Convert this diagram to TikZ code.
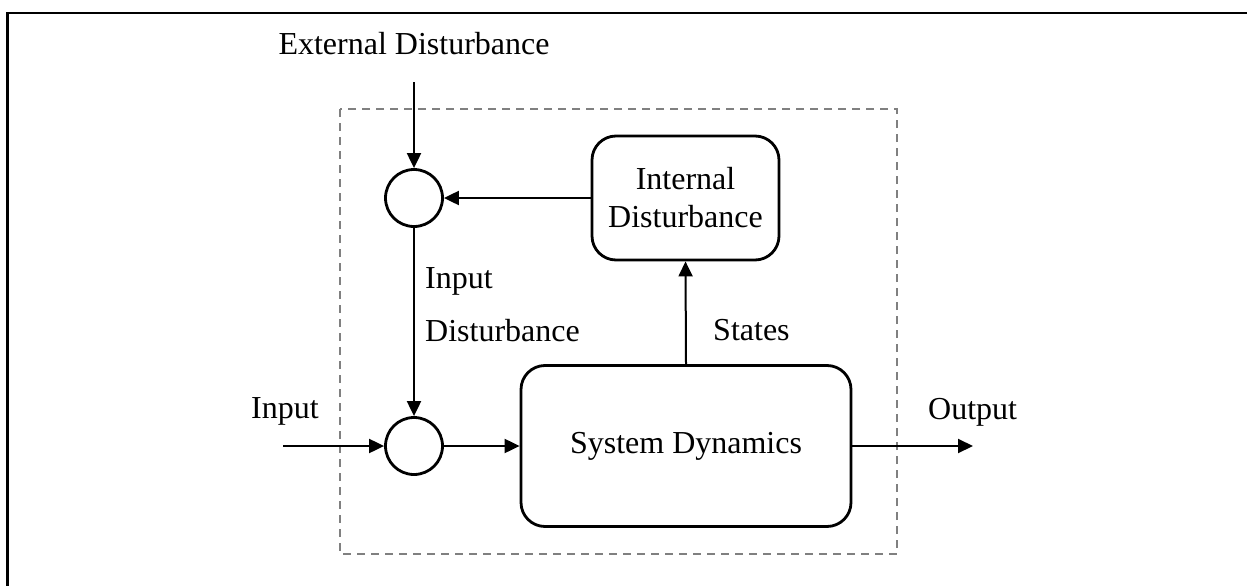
\documentclass[tikz,border=0pt]{standalone}
\usepackage{fontspec}
\setmainfont{Liberation Serif}
\usetikzlibrary{arrows.meta}

\tikzset{
  lbl/.style={inner sep=0pt, font=\fontsize{32}{38}\selectfont},
  blockbox/.style={draw, line width=2.8pt, rounded corners=24pt, align=center,
    inner sep=0pt, font=\fontsize{32}{38}\selectfont},
  sumnode/.style={draw, circle, line width=2.8pt, minimum size=57pt, inner sep=0pt},
  arr/.style={line width=2pt, -{Triangle[length=15pt,width=14pt]}},
  frameline/.style={line width=2.4pt},
  boundary/.style={draw=black!50, line width=2.2pt, dash pattern=on 8pt off 6pt}
}

\begin{document}
\begin{tikzpicture}[x=1pt, y=-1pt]
  \useasboundingbox (0,0) rectangle (1247,586);

  % page frame (top and left edges)
  \draw[frameline] (7.5,586) -- (7.5,13) -- (1247,13);

  % system boundary
  \draw[boundary] (340,109) rectangle (897,554);

  % blocks
  \node[sumnode] (c1) at (414,198) {};
  \node[sumnode] (c2) at (414,446) {};
  \node[blockbox, minimum width=187pt, minimum height=124pt] (id) at (685.5,198)
    {Internal\\Disturbance};
  \node[blockbox, minimum width=330pt, minimum height=161pt] (sd) at (686,446)
    {System Dynamics};

  % free ends of the signal lines
  \coordinate (extin) at (414,82);
  \coordinate (uin) at (283,446);
  \coordinate (yout) at (973,446);

  % signal flow
  \draw[arr] (extin) -- (c1.north);
  \draw[arr] (id.west) -- (c1.east);
  \draw[arr] (c1.south) -- (c2.north);
  \draw[arr] (uin) -- (c2.west);
  \draw[arr] (c2.east) -- (sd.west);
  \draw[arr] (sd.north) -- (id.south);
  \draw[arr] (sd.east) -- (yout);

  % labels
  \node[lbl, anchor=base] (lext) at (414,55) {External Disturbance};
  \node[lbl, anchor=base west] (lid1) at (425,288) {Input};
  \node[lbl, anchor=base west] (lid2) at (425,341) {Disturbance};
  \node[lbl, anchor=base west] (lu) at (251,418) {Input};
  \node[lbl, anchor=base west] (lx) at (713,340) {States};
  \node[lbl, anchor=base west] (ly) at (928,419) {Output};
\end{tikzpicture}
\end{document}
